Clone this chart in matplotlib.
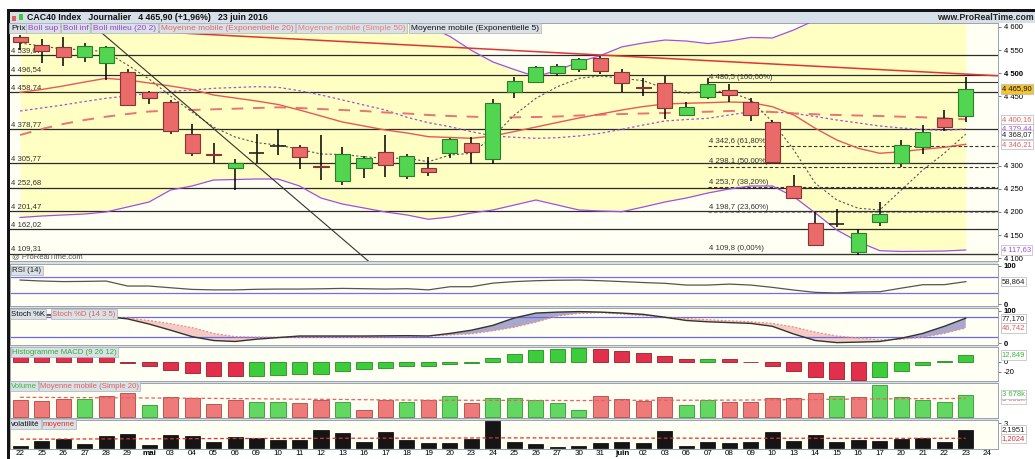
import numpy as np
import matplotlib.pyplot as plt
from matplotlib.patches import Rectangle

plt.rcParams['font.family'] = ['Liberation Sans', 'DejaVu Sans']

W, H = 1035, 459

# ---- data ----
dates = ['22', '25', '26', '27', '28', '29', 'mai', '03', '04', '05', '06', '09', '10', '11', '12', '13',
         '16', '17', '18', '19', '20', '23', '24', '25', '26', '27', '30', '31', 'juin', '02', '03',
         '06', '07', '08', '09', '10', '13', '14', '15', '16', '17', '20', '21', '22', '23', '24']

opens = [4578.8, 4560.8, 4555.8, 4534.2, 4521.2, 4501.8, 4458.5, 4438.2, 4368.4, 4325.0,
         4294.2, 4328.0, 4343.0, 4339.6, 4299.2, 4267.4, 4294.2, 4328.8, 4278.3, 4295.5,
         4326.7, 4348.3, 4313.7, 4459.8, 4480.2, 4499.6, 4508.3, 4533.4, 4503.0, 4470.5,
         4478.0, 4409.5, 4447.7, 4463.5, 4438.2, 4395.0, 4256.0, 4175.3, 4173.0, 4114.0,
         4178.8, 4305.0, 4339.6, 4402.3, 4408.0]
highs = [4582.0, 4573.0, 4577.5, 4564.5, 4558.6, 4508.3, 4462.0, 4441.9, 4389.4, 4349.6,
         4313.7, 4367.7, 4378.6, 4344.6, 4366.0, 4339.6, 4320.8, 4366.0, 4325.2, 4319.3,
         4360.0, 4361.2, 4443.4, 4492.3, 4515.4, 4519.7, 4532.0, 4537.0, 4508.3, 4488.8,
         4493.8, 4438.0, 4488.8, 4475.8, 4445.6, 4398.7, 4279.8, 4200.4, 4206.0, 4162.4,
         4222.0, 4355.4, 4387.2, 4420.3, 4491.0]
lows = [4550.0, 4522.5, 4515.4, 4524.7, 4485.0, 4430.0, 4433.0, 4367.7, 4320.8, 4306.3,
        4247.0, 4306.3, 4323.0, 4292.0, 4269.0, 4258.0, 4272.6, 4276.0, 4271.0, 4277.6,
        4315.8, 4303.5, 4303.5, 4446.9, 4478.0, 4493.8, 4503.0, 4498.1, 4459.8, 4450.5,
        4400.0, 4407.0, 4443.4, 4438.2, 4397.0, 4305.0, 4229.0, 4126.2, 4167.0, 4106.8,
        4169.5, 4296.4, 4325.2, 4375.5, 4395.0]
closes = [4568.0, 4548.5, 4534.2, 4558.6, 4555.8, 4431.1, 4445.6, 4375.5, 4328.0, 4322.4,
          4305.0, 4328.0, 4343.0, 4319.3, 4296.4, 4324.5, 4315.8, 4301.4, 4321.5, 4285.6,
          4357.6, 4328.8, 4434.8, 4483.0, 4512.6, 4515.4, 4529.9, 4505.2, 4478.0, 4468.5,
          4424.0, 4426.0, 4476.5, 4452.7, 4409.5, 4308.5, 4229.4, 4128.4, 4173.0, 4153.7,
          4195.4, 4344.6, 4372.7, 4384.2, 4465.9]
prev_close = 4582.0

boll_sup = [4648.3, 4658.1, 4668.9, 4682.0, 4691.4, 4690.4, 4691.4, 4673.3, 4671.0, 4665.5,
            4667.8, 4670.3, 4667.7, 4668.0, 4675.4, 4666.8, 4653.8, 4640.8, 4615.7, 4601.6,
            4579.4, 4549.2, 4524.1, 4507.7, 4492.5, 4505.9, 4524.1, 4537.9, 4556.8, 4565.2,
            4571.6, 4569.4, 4563.8, 4569.5, 4577.2, 4576.0, 4593.4, 4614.8, 4636.6, 4648.9,
            4655.3, 4648.4, 4641.4, 4636.6, 4641.2]
boll_mid = [4418.1, 4424.6, 4431.1, 4438.7, 4445.6, 4450.5, 4456.4, 4460.3, 4463.5, 4467.2,
            4468.9, 4470.7, 4469.4, 4462.0, 4452.7, 4441.9, 4431.1, 4420.3, 4404.5, 4392.8,
            4384.2, 4373.4, 4364.1, 4361.3, 4359.1, 4360.4, 4364.1, 4369.9, 4378.6, 4387.9,
            4396.5, 4399.7, 4402.3, 4409.5, 4416.6, 4416.0, 4413.1, 4406.2, 4398.7, 4392.2,
            4385.7, 4381.4, 4378.1, 4376.0, 4379.4]
boll_inf = [4187.9, 4191.1, 4193.3, 4195.4, 4199.8, 4210.6, 4221.4, 4247.3, 4256.0, 4268.9,
            4270.0, 4271.1, 4271.1, 4256.0, 4230.0, 4217.0, 4208.4, 4199.8, 4193.3, 4184.0,
            4189.0, 4197.6, 4204.1, 4214.9, 4225.7, 4214.9, 4204.1, 4201.9, 4200.4, 4210.6,
            4221.4, 4230.0, 4240.8, 4249.5, 4256.0, 4256.0, 4232.8, 4197.6, 4160.8, 4135.5,
            4116.1, 4114.4, 4114.8, 4115.4, 4117.6]
ema20 = [4458.5, 4464.6, 4472.2, 4480.8, 4488.8, 4485.1, 4478.7, 4472.2, 4464.6, 4452.7,
         4446.2, 4439.7, 4432.2, 4420.3, 4407.3, 4394.3, 4385.7, 4377.0, 4370.6, 4362.6,
         4360.9, 4359.1, 4364.1, 4373.8, 4383.5, 4393.3, 4403.0, 4411.6, 4420.3, 4427.8,
         4433.3, 4434.8, 4436.1, 4437.6, 4436.5, 4427.4, 4409.5, 4380.7, 4355.4, 4337.5,
         4326.7, 4330.1, 4335.3, 4339.6, 4346.2]
sma50 = [4366.2, 4379.2, 4390.0, 4398.7, 4405.8, 4411.6, 4417.0, 4419.2, 4420.3, 4421.8,
         4423.1, 4424.6, 4426.1, 4424.6, 4422.4, 4420.3, 4418.1, 4414.9, 4412.7, 4409.5,
         4407.3, 4405.8, 4404.5, 4404.5, 4405.1, 4406.2, 4408.4, 4410.1, 4411.6, 4412.7,
         4413.8, 4415.3, 4416.6, 4418.1, 4418.8, 4416.0, 4413.1, 4411.0, 4409.5, 4408.4,
         4407.3, 4405.8, 4404.5, 4402.3, 4400.2]
ema5 = [4565.0, 4558.6, 4552.0, 4551.0, 4545.7, 4517.6, 4487.3, 4450.5, 4416.0, 4383.5,
        4361.9, 4349.6, 4344.6, 4335.3, 4325.2, 4324.1, 4319.3, 4315.9, 4315.9, 4308.5,
        4323.0, 4326.7, 4362.6, 4409.5, 4445.6, 4470.7, 4488.8, 4493.8, 4488.8, 4483.6,
        4466.8, 4456.4, 4461.4, 4459.8, 4441.9, 4395.0, 4333.8, 4261.8, 4225.7, 4207.8,
        4204.1, 4247.3, 4290.6, 4326.7, 4368.1]

levels = [4539.07, 4496.54, 4458.74, 4378.77, 4305.77, 4252.68, 4201.47, 4162.02, 4109.31]
level_labels = ['4 539,07', '4 496,54', '4 458,74', '4 378,77', '4 305,77', '4 252,68',
                '4 201,47', '4 162,02', '4 109,31']
fib_levels = [4480.5, 4342.6, 4298.1, 4253.7, 4198.7, 4109.8]
fib_labels = ['4 480,5 (100,00%)', '4 342,6 (61,80%)', '4 298,1 (50,00%)',
              '4 253,7 (38,20%)', '4 198,7 (23,60%)', '4 109,8 (0,00%)']
fib_start = 32.0
black_trend = ([3.26, 16.2], [4608.4, 4093.8])
red_trend = ([-0.5, 45.5], [4606.0, 4494.3])

rsi = [63.0, 60.5, 59.0, 59.5, 60.4, 47.5, 47.4, 43.0, 38.7, 37.5, 37.5, 39.0, 39.6, 39.6, 40.3,
       41.3, 40.5, 39.6, 40.5, 37.5, 45.7, 45.7, 55.0, 59.0, 61.3, 62.5, 63.0, 61.3, 59.0, 56.5,
       54.5, 50.0, 50.0, 52.5, 50.0, 44.0, 37.0, 31.0, 29.5, 32.0, 32.6, 42.0, 50.9, 51.0, 58.864]
stoch_k = [85, 88, 86, 84, 82, 75, 59, 40, 20, 8, 5, 12, 17, 22, 22, 22, 22, 22.5, 23, 22,
           30, 40, 55, 78, 93, 96, 97.6, 96, 93, 89, 80, 70, 66, 63.5, 61, 52, 28, 8, 1.5, 3,
           5, 15, 30, 52, 77.17]
stoch_d = [82, 84, 85, 84, 81, 78, 70, 60, 48, 30, 20, 18.5, 18, 18, 18, 18, 18, 19, 20, 22,
           25, 29, 38, 49, 65, 84, 92, 94, 90, 85, 80.5, 76, 72.5, 69, 66, 61, 50, 34, 22, 16,
           10, 12, 18, 30, 46.742]
macd_hist = [13.5, 13.2, 12.9, 12.6, 8.4, -3.2, -7.8, -16.2, -22.7, -27.8, -28.5, -27.8, -25.9,
             -23.9, -23.5, -19.4, -14.9, -12.9, -9.7, -9.5, -4.5, -3.2, 6.5, 14.9, 21.4, 23.9,
             27.2, 23.9, 20.7, 16.2, 11.0, 5.2, 5.5, 4.5, -1.3, -9.7, -19.4, -30.4, -34.3, -35.6,
             -30.4, -17.5, -6.5, 1.9, 12.849]
volume_k = [2831, 2661, 3000, 3000, 3452, 3961, 1983, 3339, 3170, 2153, 2831, 2548, 2548, 2266,
            2831, 2548, 1136, 2831, 2492, 2831, 3509, 2266, 3170, 3170, 2831, 2379, 1136, 3509,
            2944, 2661, 3339, 1983, 2831, 2548, 2548, 3170, 3114, 3961, 3509, 3339, 5373, 3339,
            2831, 2548, 3678]
volume_ma = [3290, 3270, 3250, 3230, 3210, 3200, 3170, 3150, 3130, 3100, 3070, 3040, 3000, 2970,
             2950, 2920, 2880, 2850, 2820, 2800, 2790, 2780, 2770, 2760, 2760, 2750, 2740, 2750,
             2770, 2780, 2790, 2790, 2800, 2810, 2830, 2860, 2890, 2920, 2950, 2980, 3020, 3040,
             3060, 3080, 3095]
volat = [0.24, 0.84, 1.17, 0.56, 1.45, 1.69, 0.36, 1.57, 1.45, 0.72, 1.33, 1.21, 1.05, 0.96,
         2.17, 1.81, 0.80, 2.01, 1.05, 0.64, 0.64, 1.09, 3.30, 0.72, 0.52, 0.20, 0.24, 0.60,
         0.80, 0.60, 2.05, 0.28, 0.72, 0.60, 0.72, 2.01, 0.88, 1.65, 0.72, 1.05, 0.84, 1.09,
         1.21, 0.72, 2.1951]
volat_ma = [1.10, 1.10, 1.11, 1.12, 1.13, 1.14, 1.14, 1.15, 1.16, 1.17, 1.18, 1.18, 1.19, 1.19,
            1.20, 1.21, 1.21, 1.22, 1.22, 1.23, 1.23, 1.24, 1.25, 1.25, 1.25, 1.24, 1.24, 1.23,
            1.23, 1.22, 1.22, 1.22, 1.21, 1.21, 1.21, 1.21, 1.21, 1.20, 1.20, 1.20, 1.20, 1.20,
            1.20, 1.20, 1.2024]

idx = np.arange(len(closes))
XL = (-0.47, 45.5)

# ---- helpers ----
fig = plt.figure(figsize=(W / 100, H / 100), dpi=100)
fig.patch.set_facecolor('white')


def box(x0, y0, x1, y1):
    return [x0 / W, 1 - y1 / H, (x1 - x0) / W, (y1 - y0) / H]


def frect(x0, y0, x1, y1, color, z=0):
    fig.add_artist(Rectangle((x0 / W, 1 - y1 / H), (x1 - x0) / W, (y1 - y0) / H,
                             transform=fig.transFigure, facecolor=color, edgecolor='none', zorder=z))


def panel(y0, y1, ylim):
    ax = fig.add_axes(box(10, y0, 998, y1))
    ax.set_facecolor('#fffff4')
    ax.set_xlim(*XL)
    ax.set_ylim(*ylim)
    ax.set_xticks([])
    ax.yaxis.tick_right()
    ax.tick_params(axis='y', length=2.5, width=0.6, color='#666', pad=1.5, labelsize=5.5)
    for s in ax.spines.values():
        s.set_color('#9aa4ad')
        s.set_linewidth(0.7)
    return ax


def tag(ax, x, y, txt, color, fs=5.6):
    ax.text(x, y, txt, transform=ax.transAxes, fontsize=fs, color=color, va='top', ha='left',
            zorder=10, bbox=dict(boxstyle='square,pad=0.18', fc='#d9e0e6', ec='#aab3bb', lw=0.5))


def ftag(x, y, txt, color, fs=5.6):
    fig.text(x / W, 1 - y / H, txt, fontsize=fs, color=color, va='center', ha='left', zorder=20,
             bbox=dict(boxstyle='square,pad=0.18', fc='#d9e0e6', ec='#aab3bb', lw=0.5))


def rlabel(ax, y, txt, color, fc='white', z=10, weight='normal'):
    ax.text(1.004, y, txt, transform=ax.get_yaxis_transform(), fontsize=5.5, color=color,
            va='center', ha='left', clip_on=False, zorder=z, fontweight=weight,
            bbox=dict(boxstyle='square,pad=0.15', fc=fc, ec='#b8b8b8', lw=0.5))


# gray backdrop behind the panels and the frame
frect(10, 23, 998, 450, '#d8dee3')
frect(10, 12, 1035, 23, '#d7e0e8')
frect(7, 9.5, 1035, 12, '#141414', z=5)
frect(7, 9.5, 10, 459, '#141414', z=5)
frect(12, 16, 16, 21, '#e06060', z=6)
frect(19, 14, 23, 20, '#40c840', z=6)
fig.text(27 / W, 1 - 17.5 / H, 'CAC40 Index   Journalier   4 465,90 (+1,96%)   23 juin 2016',
         fontsize=6.3, fontweight='bold', va='center', ha='left', color='#111')
fig.text(937 / W, 1 - 17.5 / H, 'www.ProRealTime.com', fontsize=6.3, fontweight='bold',
         va='center', ha='left', color='#222')

# ---- main price panel ----
ax = panel(23, 261, (4093.8, 4608.4))
ax.fill_between(idx, boll_inf, boll_sup, color='#ffffc4', lw=0, zorder=0)
for lv, lab in zip(levels, level_labels):
    ax.axhline(lv, color='#2c2c2c', lw=0.9, zorder=1)
    ax.annotate(lab, (-0.42, lv), xytext=(0, 1), textcoords='offset points', fontsize=5.6,
                color='#333', va='bottom', ha='left', zorder=2)
for k, (lv, lab) in enumerate(zip(fib_levels, fib_labels)):
    ls = '-' if k in (0, 5) else (0, (3, 2))
    col = '#888' if k == 4 else '#333'
    ax.hlines(lv, fib_start, XL[1], color=col, lw=0.8, linestyles=ls, zorder=1)
    ax.annotate(lab, (fib_start + 0.05, lv), xytext=(0, 1), textcoords='offset points',
                fontsize=5.6, color='#333', va='bottom', ha='left', zorder=2)

ax.plot(idx, boll_sup, color='#a24fe0', lw=0.9, zorder=3)
ax.plot(idx, boll_inf, color='#a24fe0', lw=0.9, zorder=3)
ax.plot(idx, boll_mid, color='#a24fe0', lw=0.9, ls=(0, (2, 2)), zorder=3)
ax.plot(idx, sma50, color='#e87474', lw=1.4, ls=(0, (6, 5)), zorder=3)
ax.plot(idx, ema20, color='#e85858', lw=1.0, zorder=3)
ax.plot(idx, ema5, color='#555', lw=0.8, ls=(0, (2, 2)), zorder=3)
ax.plot(*black_trend, color='#333', lw=0.8, zorder=3)
ax.plot(*red_trend, color='#e03535', lw=1.1, zorder=3)

for i in idx:
    o, h, l, c = opens[i], highs[i], lows[i], closes[i]
    ax.vlines(i, l, h, color='black', lw=1.1, zorder=4)
    if abs(c - o) < 1:
        ax.hlines(o, i - 0.35, i + 0.35, color='#222', lw=1.2, zorder=5)
    else:
        fc, ec = ('#52d652', '#2a7f2a') if c > o else ('#ea6a6a', '#8c3434')
        ax.add_patch(Rectangle((i - 0.35, min(o, c)), 0.7, abs(c - o), fc=fc, ec=ec,
                               lw=0.8, zorder=5))

ticks = [4600, 4550, 4500, 4450, 4300, 4250, 4200, 4150, 4100]
ax.set_yticks(ticks)
ax.set_yticklabels([f'{t // 1000} {t % 1000:03d}' for t in ticks])
ax.get_yticklabels()[2].set_fontweight('bold')
ax.spines['left'].set_visible(False)
rlabel(ax, 4465.9, '4 465,90', '#111', fc='#f4c430')
rlabel(ax, 4400.16, '4 400,16', '#e06060')
rlabel(ax, 4379.44, '4 379,44', '#a24fe0')
rlabel(ax, 4368.07, '4 368,07', '#222', z=11)
rlabel(ax, 4346.21, '4 346,21', '#e06060')
rlabel(ax, 4117.63, '4 117,63', '#a24fe0')
ax.text(0.002, 0.003, '@ ProRealTime.com', transform=ax.transAxes, fontsize=5.5,
        color='#555', va='bottom', ha='left', zorder=6)

legend = [(11, 'Prix', '#111'), (28, 'Boll sup', '#9b3fd8'), (63, 'Boll inf', '#9b3fd8'),
          (93, 'Boll milieu (20 2)', '#9b3fd8'), (161, 'Moyenne mobile (Exponentielle 20)', '#e06a6a'),
          (298, 'Moyenne mobile (Simple 50)', '#e88080'), (411, 'Moyenne mobile (Exponentielle 5)', '#111')]
for x, txt, col in legend:
    fig.text(x / W, 1 - 28 / H, txt, fontsize=6, color=col, va='center', ha='left', zorder=20,
             bbox=dict(boxstyle='square,pad=0.2', fc='#d9e0e6', ec='#aab3bb', lw=0.5))

# ---- RSI ----
ax = panel(264, 306, (-4.4, 104.7))
ax.axhline(70, color='#7a6ee6', lw=0.9)
ax.axhline(30, color='#7a6ee6', lw=0.9)
ax.plot(idx, rsi, color='#555', lw=0.9)
ax.set_yticks([100, 0])
ax.set_yticklabels(['100', '0'], fontweight='bold')
rlabel(ax, 58.864, '58,864', '#222')
tag(ax, 0.002, 0.93, 'RSI (14)', '#222')

# ---- Stochastic ----
ax = panel(308, 345, (-5.9, 108.7))
k, d = np.array(stoch_k), np.array(stoch_d)
ax.fill_between(idx, k, d, where=k >= d, interpolate=True, color='#a8a8cc', lw=0)
ax.fill_between(idx, k, d, where=k < d, interpolate=True, color='#f6cbc4', lw=0)
ax.axhline(80, color='#6a6ae0', lw=0.9)
ax.axhline(20, color='#6a6ae0', lw=0.9)
ax.plot(idx, d, color='#ec8a8a', lw=0.9, ls=(0, (1.5, 1.5)))
ax.plot(idx, k, color='#333', lw=1.0)
ax.set_yticks([100, 0])
ax.set_yticklabels(['100', '0'], fontweight='bold')
rlabel(ax, 77.17, '77,170', '#222')
rlabel(ax, 46.742, '46,742', '#e06060')
ftag(11, 314, 'Stoch %K', '#111')
ftag(52, 314, 'Stoch %D (14 3 5)', '#e06060')

# ---- MACD histogram ----
ax = panel(347, 381, (-37.9, 28.2))
prev = np.r_[macd_hist[0] + 1, macd_hist[:-1]]
mcol = ['#3ccc3c' if v > p else '#e2304c' for v, p in zip(macd_hist, prev)]
medge = ['#229022' if v > p else '#9c1c30' for v, p in zip(macd_hist, prev)]
ax.bar(idx, macd_hist, width=0.7, color=mcol, edgecolor=medge, lw=0.6)
ax.set_yticks([0, -20])
ax.set_yticklabels(['0', '-20'])
rlabel(ax, 12.849, '12,849', '#3cb83c')
tag(ax, 0.002, 0.95, 'Histogramme MACD (9 26 12)', '#30b030')

# ---- Volume ----
ax = panel(383, 418, (-220, 5712))
up = np.array(closes) > np.r_[prev_close, closes[:-1]]
ax.bar(idx, volume_k, width=0.7, color=np.where(up, '#62d862', '#ee7a7a'),
       edgecolor=np.where(up, '#2f9a2f', '#b34545'), lw=0.6)
ax.plot(idx, volume_ma, color='#e86060', lw=0.9, ls=(0, (3, 2)))
ax.set_yticks([])
rlabel(ax, 3800, '3 678k', '#3cb83c', z=11)
rlabel(ax, 2900, '3 095k', '#e06060')
ftag(11, 386, 'Volume', '#3cb83c')
ftag(40, 386, 'Moyenne mobile (Simple 20)', '#e06060')

# ---- Volatility ----
ax = panel(420, 449, (-0.084, 3.4))
ax.bar(idx, volat, width=0.7, color='#151515', edgecolor='#000', lw=0.5)
ax.plot(idx, volat_ma, color='#e03030', lw=0.9, ls=(0, (3, 2)))
ax.set_yticks([3])
ax.set_yticklabels(['3'])
rlabel(ax, 2.1951, '2,1951', '#222')
rlabel(ax, 1.2024, '1,2024', '#e03030')
ftag(11, 424, 'volatilité', '#111')
ftag(43, 424, 'moyenne', '#e03030')
ax.set_xticks(np.arange(len(dates)))
ax.set_xticklabels(dates, fontsize=5.8)
ax.tick_params(axis='x', length=0, pad=1)
for lab in ax.get_xticklabels():
    if lab.get_text() in ('mai', 'juin'):
        lab.set_fontweight('bold')

fig.savefig('out.png', dpi=100)
